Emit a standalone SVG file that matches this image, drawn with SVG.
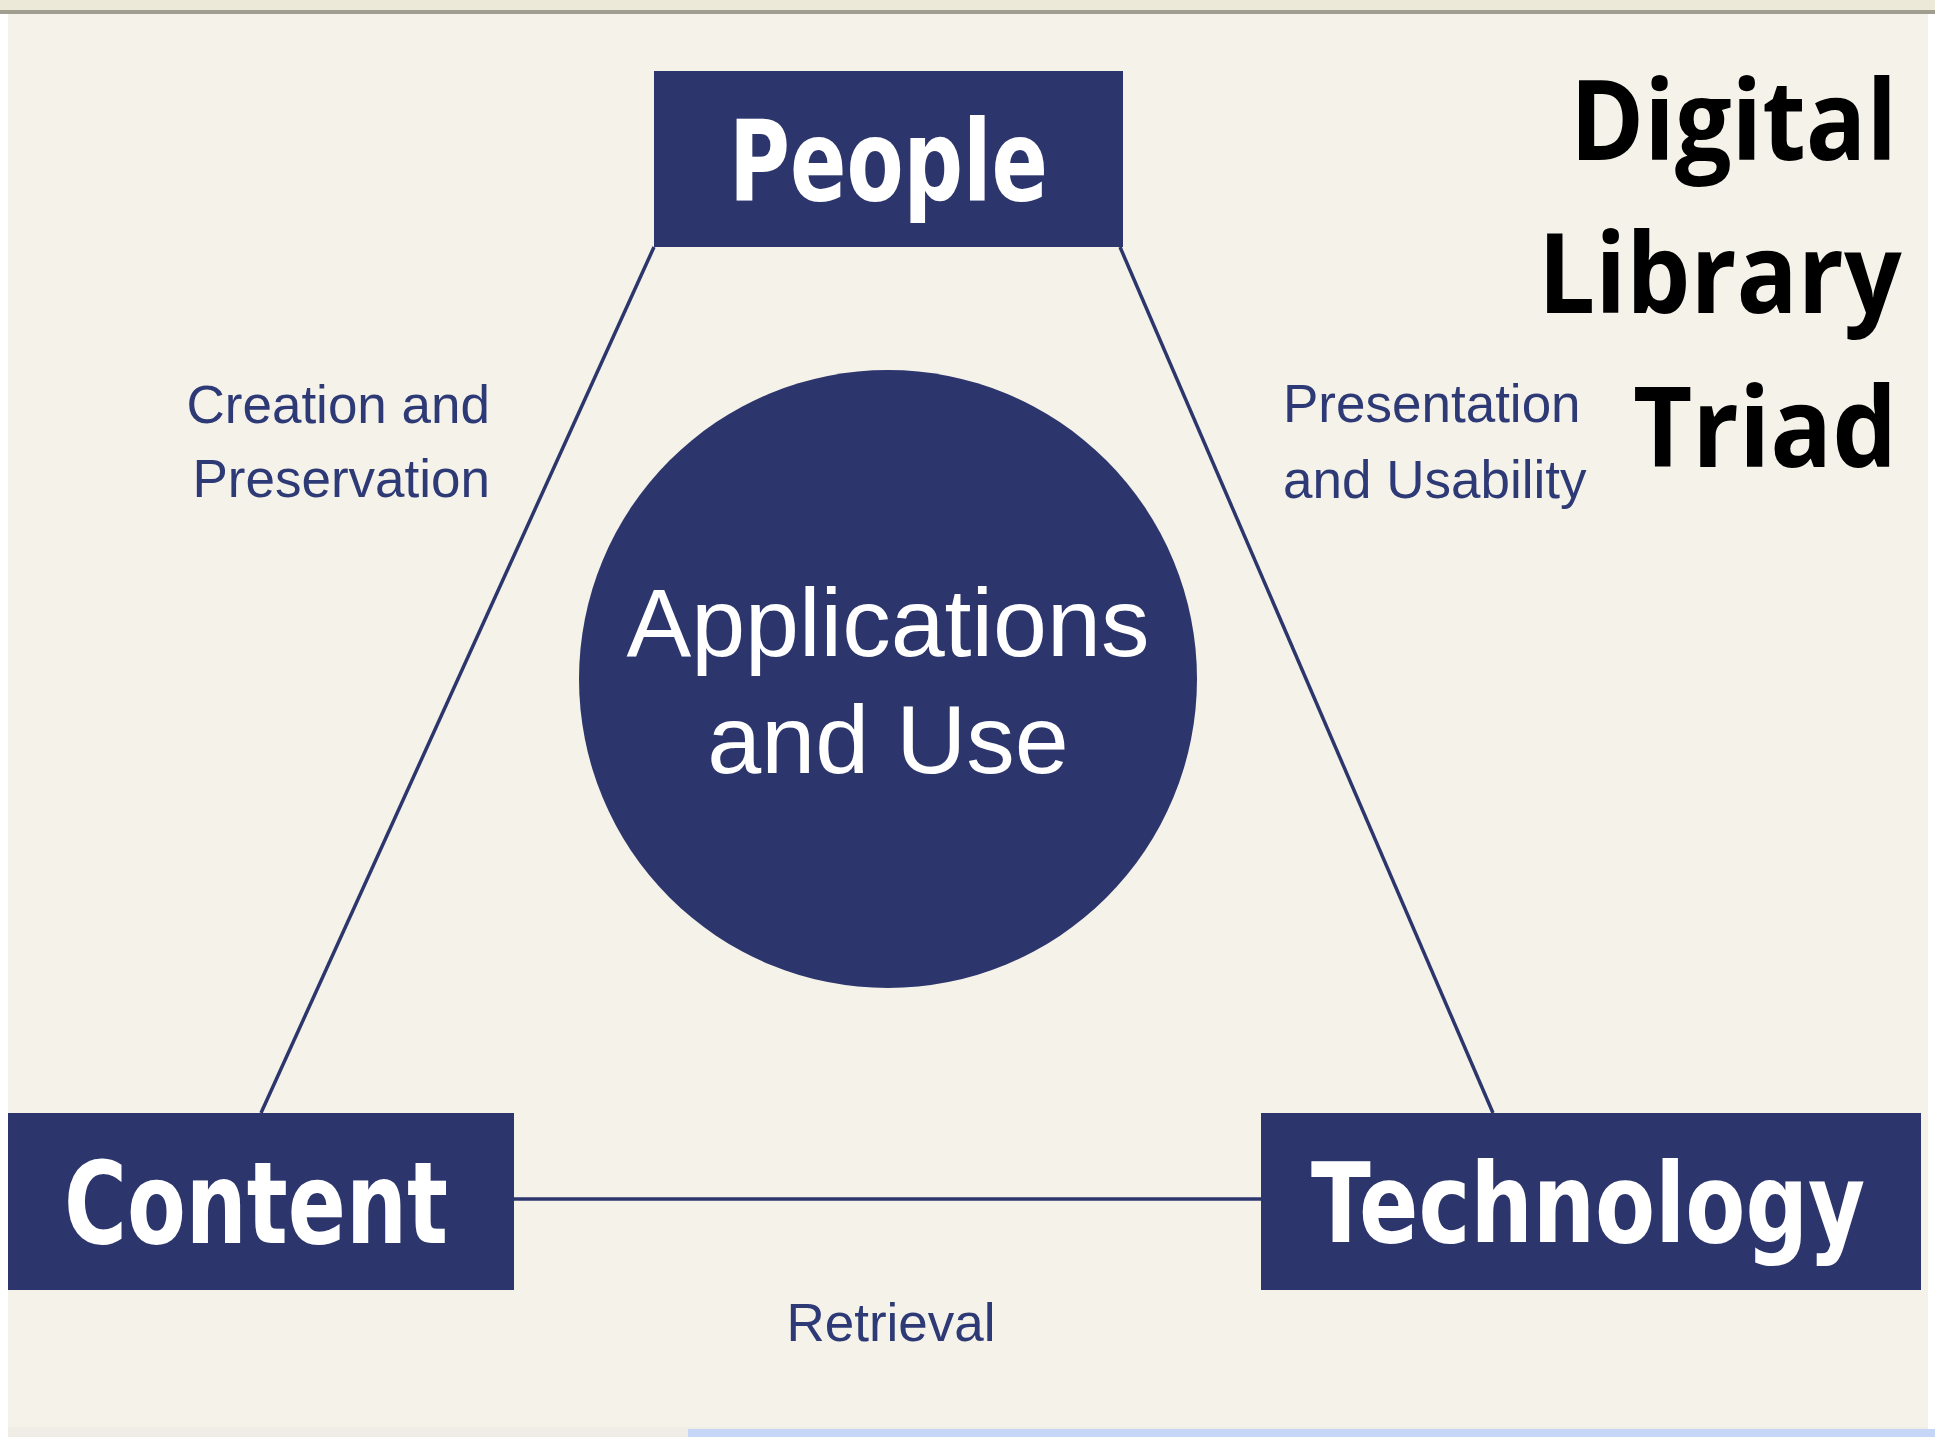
<svg xmlns="http://www.w3.org/2000/svg" width="1935" height="1437" viewBox="0 0 1935 1437">
<style>
.box{fill:#2d366c;}
.node-label{font-family:"DejaVu Sans","Liberation Sans",sans-serif;font-weight:bold;fill:#ffffff;}
.edge{stroke:#2d366c;stroke-width:3.5;fill:none;}
.edge-label{font-family:"Liberation Sans",Arial,sans-serif;font-size:53px;fill:#2e3a75;}
.center-label{font-family:"Liberation Sans",Arial,sans-serif;font-size:97px;fill:#ffffff;text-anchor:middle;}
.title{font-family:"Open Sans","Noto Sans","Liberation Sans",sans-serif;font-weight:bold;font-size:112px;fill:#000000;}
</style>
<rect x="0" y="0" width="1935" height="1437" fill="#ffffff"/>
<rect x="8" y="14" width="1920" height="1413" fill="#f5f2ea"/>
<rect x="0" y="0" width="1935" height="10" fill="#ece9d8"/>
<rect x="0" y="10" width="1935" height="4" fill="#a09e90"/>
<rect x="8" y="1427" width="1920" height="10" fill="#efede6"/>
<rect x="688" y="1429" width="1247" height="8" fill="#c6d6f7"/>

<g id="connectors">
<line class="edge" x1="654" y1="247" x2="261" y2="1113"/>
<line class="edge" x1="1120" y1="247" x2="1493" y2="1113"/>
<line class="edge" x1="514" y1="1199" x2="1261" y2="1199"/>
<text class="edge-label" x="490" y="423" text-anchor="end">Creation and</text>
<text class="edge-label" x="490" y="497" text-anchor="end">Preservation</text>
<text class="edge-label" x="1283" y="422">Presentation</text>
<text class="edge-label" x="1283" y="498">and Usability</text>
<text class="edge-label" x="891" y="1341" text-anchor="middle">Retrieval</text>
</g>

<g id="node-people">
<rect class="box" x="654" y="71" width="469" height="176"/>
<text class="node-label" x="729" y="200" font-size="112" textLength="319" lengthAdjust="spacingAndGlyphs">People</text>
</g>

<g id="node-content">
<rect class="box" x="8" y="1113" width="506" height="177"/>
<text class="node-label" x="64" y="1243" font-size="114" textLength="384" lengthAdjust="spacingAndGlyphs">Content</text>
</g>

<g id="node-technology">
<rect class="box" x="1261" y="1113" width="660" height="177"/>
<text class="node-label" font-size="111" transform="translate(1311,1242) scale(0.789,1)">Technology</text>
</g>

<g id="node-applications">
<circle class="box" cx="888" cy="679" r="309"/>
<text class="center-label" x="888" y="656">Applications</text>
<text class="center-label" x="888" y="773">and Use</text>
</g>

<g id="title">
<text class="title" x="1570" y="160" textLength="327" lengthAdjust="spacingAndGlyphs">Digital</text>
<text class="title" transform="translate(1538,313) scale(0.906,1)">Library</text>
<text class="title" x="1633" y="467" textLength="264" lengthAdjust="spacingAndGlyphs">Triad</text>
</g>
</svg>
